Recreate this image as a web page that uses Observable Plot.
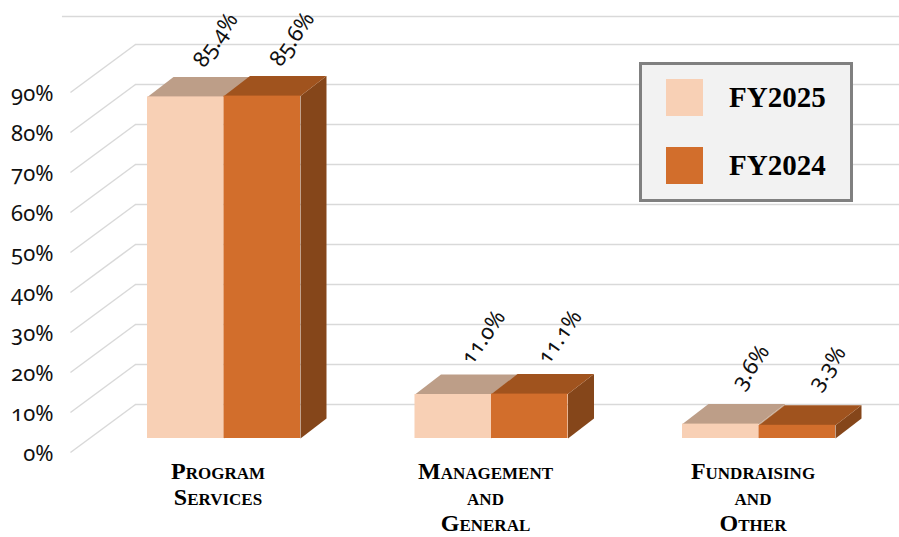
<!DOCTYPE html>
<html><head><meta charset="utf-8">
<script src="https://cdn.jsdelivr.net/npm/d3@7"></script>
<script src="https://cdn.jsdelivr.net/npm/@observablehq/plot@0.6"></script>
<style>
body{margin:0;background:#fff;}
#wrap{position:relative;width:899px;height:537px;overflow:hidden;}
#chart svg text{font-variant-numeric:oldstyle-nums;font-feature-settings:"onum" 1;}
#legend{position:absolute;left:639px;top:62px;width:208px;height:134px;background:#f2f2f2;border:3px solid #808080;font-family:"Liberation Serif","DejaVu Serif",serif;font-weight:bold;font-size:29px;color:#000;}
.item{position:absolute;left:24px;height:37px;display:flex;align-items:center;line-height:37px;}
.sw{width:37px;height:37px;margin-right:26px;}
</style></head><body>
<div id="wrap"><div id="chart"></div><div id="legend"></div></div>
<script>
// ---- data ----
const categories = ["Program\nServices", "Management\nand\nGeneral", "Fundraising\nand\nOther"];
const series = ["FY2025", "FY2024"];
const fy2025 = [85.4, 11.0, 3.6];
const fy2024 = [85.6, 11.1, 3.3];
const labels2025 = ["85.4%", "11.0%", "3.6%"];
const labels2024 = ["85.6%", "11.1%", "3.3%"];
const yTicks = [0, 10, 20, 30, 40, 50, 60, 70, 80, 90];
const yTickLabels = ["0%", "10%", "20%", "30%", "40%", "50%", "60%", "70%", "80%", "90%"];

// ---- styles / geometry ----
const colors = {
  FY2025: {front: "#f8d0b5", top: "#bd9e88", side: "#c9a98f"},
  FY2024: {front: "#d26e2c", top: "#a0531e", side: "#85461a"}
};
const BW = 0.286;          // bar width (group units)
const DX = 26 / 267.5;     // bar depth, x (group units)
const DY = 5;              // bar depth, y (value units)
const BACK = 8.5, FRONT = -3.5, TOPLINE = 105.5;
const X_FRONT = -0.574, X_BACK = -0.331, X_TOPLEFT = -0.604, X_RIGHT = 2.53;
const gridColor = "#d9d9d9";

const values = [fy2025, fy2024];
const texts = [labels2025, labels2024];
const bars = [];
series.forEach((s, si) => {
  categories.forEach((c, i) => {
    const x1 = i - BW + si * BW, x2 = x1 + BW, v = values[si][i];
    bars.push({s, si, i, x1, x2, v, label: texts[si][i]});
  });
});

function poly(b, face) {
  const {x1, x2, v} = b;
  const pts = face === "top"
    ? [[x1, v], [x2, v], [x2 + DX, v + DY], [x1 + DX, v + DY]]
    : [[x2, 0], [x2 + DX, DY], [x2 + DX, v + DY], [x2, v]];
  return pts.map(([x, y]) => ({x, y, id: b.s + b.i + face, fill: colors[b.s][face]}));
}

const barMarks = [];
series.forEach(s => {
  const bs = bars.filter(b => b.s === s);
  barMarks.push(Plot.line(bs.flatMap(b => poly(b, "side")), {x: "x", y: "y", z: "id", fill: "fill", stroke: "none", curve: "linear-closed"}));
  barMarks.push(Plot.line(bs.flatMap(b => poly(b, "top")), {x: "x", y: "y", z: "id", fill: "fill", stroke: "none", curve: "linear-closed"}));
  barMarks.push(Plot.rectY(bs, {x1: "x1", x2: "x2", y1: 0, y2: "v", fill: colors[s].front}));
});

const chart = Plot.plot({
  width: 899, height: 537,
  marginLeft: 89.75, marginRight: 6.75, marginTop: 38, marginBottom: 99,
  x: {domain: [-0.5, 2.5], axis: null},
  y: {domain: [0, 100], axis: null},
  color: {type: "identity"},
  style: {fontFamily: "'Noto Sans', 'Open Sans', sans-serif", background: "#fff", overflow: "visible"},
  marks: [
    Plot.ruleY([TOPLINE], {x1: X_TOPLEFT, x2: X_RIGHT, stroke: gridColor, strokeWidth: 1.5}),
    Plot.ruleY(yTicks, {y: d => d + BACK, x1: X_BACK, x2: X_RIGHT, stroke: gridColor, strokeWidth: 1.5}),
    Plot.link(yTicks, {x1: X_FRONT, y1: d => d + FRONT, x2: X_BACK, y2: d => d + BACK, stroke: gridColor, strokeWidth: 1.5}),
    Plot.text(yTicks, {x: X_FRONT, y: d => d + FRONT, text: (d, i) => yTickLabels[i], textAnchor: "end", dx: -17, dy: 1, fontSize: 22, fill: "#111"}),
    ...barMarks,
    Plot.text(bars, {x: d => (d.x1 + d.x2) / 2, y: "v", text: "label", rotate: -55, dx: 30, dy: -57, fontSize: 22, fill: "#111"}),
    Plot.text(categories, {x: (d, i) => i, y: 0, text: d => d, lineAnchor: "top", dx: -6, dy: 22, fontSize: 24, fontWeight: "bold", fontVariant: "small-caps", lineHeight: 1.08, fontFamily: "'Liberation Serif', serif", fill: "#000"})
  ]
});
document.getElementById("chart").append(chart);

const legend = document.getElementById("legend");
series.forEach((s, k) => {
  const it = document.createElement("div");
  it.className = "item";
  it.style.top = (14 + 68 * k) + "px";
  it.innerHTML = `<div class="sw" style="background:${colors[s].front}"></div><span>${s}</span>`;
  legend.append(it);
});
</script>
</body></html>
